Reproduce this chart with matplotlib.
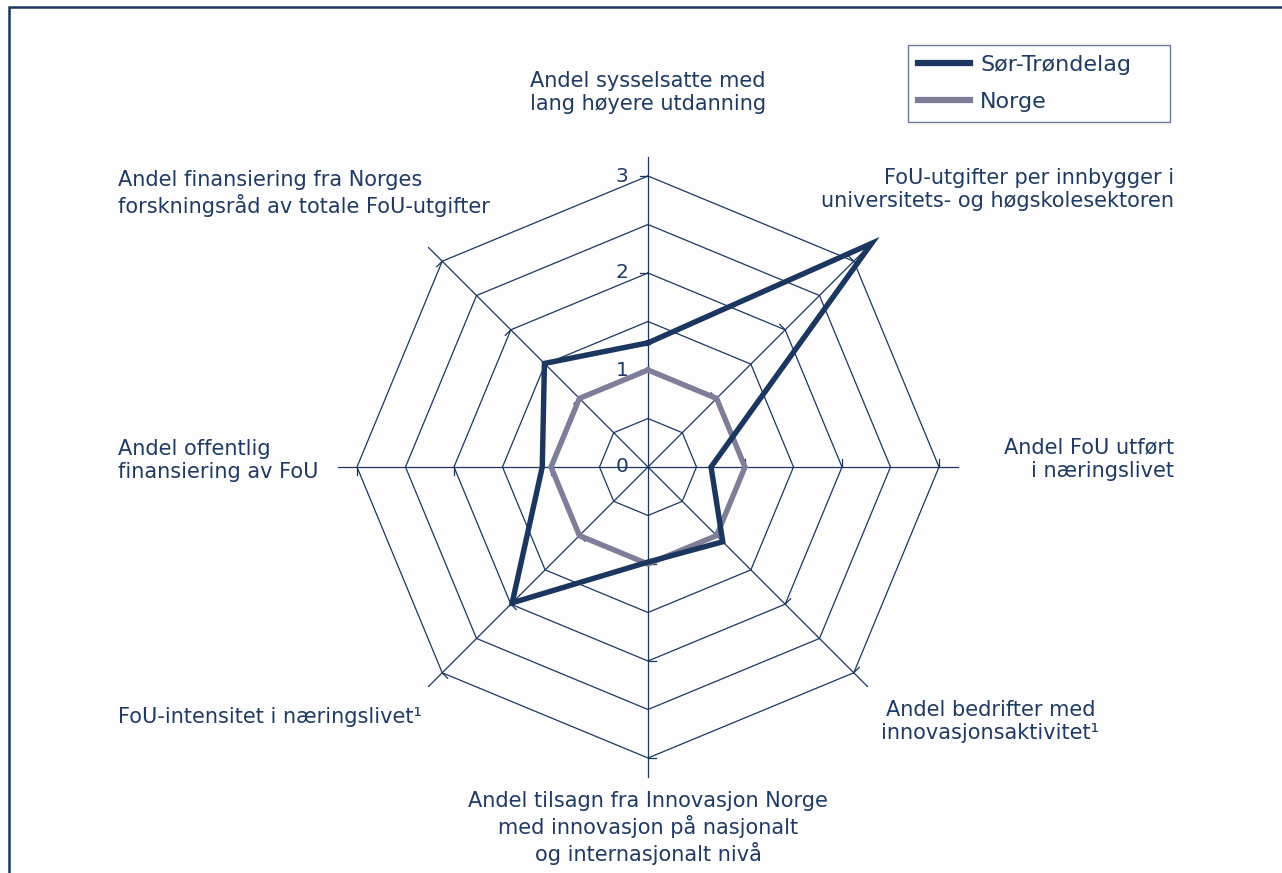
import numpy as np
import matplotlib
matplotlib.use("Agg")
import matplotlib.pyplot as plt
from matplotlib.patches import Rectangle
from matplotlib.lines import Line2D

# axes, clockwise from the top
categories = [
    "Andel sysselsatte med\nlang høyere utdanning",
    "FoU-utgifter per innbygger i\nuniversitets- og høgskolesektoren",
    "Andel FoU utført\ni næringslivet",
    "Andel bedrifter med\ninnovasjonsaktivitet¹",
    "Andel tilsagn fra Innovasjon Norge\nmed innovasjon på nasjonalt\nog internasjonalt nivå",
    "FoU-intensitet i næringslivet¹",
    "Andel offentlig\nfinansiering av FoU",
    "Andel finansiering fra Norges\nforskningsråd av totale FoU-utgifter",
]
sor_trondelag = [1.28, 3.26, 0.65, 1.09, 0.98, 1.98, 1.09, 1.51]
norge = [1.0, 1.0, 1.0, 1.0, 1.0, 1.0, 1.0, 1.0]
series_names = ["Sør-Trøndelag", "Norge"]
ring_levels = [0.5, 1.0, 1.5, 2.0, 2.5, 3.0]
tick_levels = [0, 1, 2, 3]

NAVY = "#1b365f"
GREY = "#7f7e99"
TXT = "#1f3b63"

plt.rcParams["font.family"] = ["DejaVu Sans"]

n = len(categories)
ang = np.deg2rad(90 - 360.0 / n * np.arange(n))

fig = plt.figure(figsize=(12.82, 8.73), dpi=100)
fig.patch.set_facecolor("white")
ax = fig.add_axes([0, 0, 1, 1])
ax.set_xlim(-648 / 97, (1282 - 648) / 97)
ax.set_ylim(-406 / 97, 467 / 97)
ax.set_aspect("equal")
ax.axis("off")

# frame around the figure (right and bottom run off the picture)
fig.add_artist(Rectangle((9 / 1282, -0.1), 1.2, 1 - 7 / 873 + 0.1,
                         transform=fig.transFigure, fill=True,
                         facecolor="#fdfdfd", edgecolor="#1b365f", lw=1.8, zorder=0))

# octagon grid
for r in ring_levels:
    xs = np.append(r * np.cos(ang), r * np.cos(ang[0]))
    ys = np.append(r * np.sin(ang), r * np.sin(ang[0]))
    ax.plot(xs, ys, color=NAVY, lw=0.9, zorder=1)

# spokes + small ticks
for a in ang:
    ax.plot([0, 3.2 * np.cos(a)], [0, 3.2 * np.sin(a)], color=NAVY, lw=0.9, zorder=1)
    for t in tick_levels[1:]:
        px, py = t * np.cos(a), t * np.sin(a)
        ax.plot([px, px + 0.08 * np.cos(a + np.pi / 2)],
                [py, py + 0.08 * np.sin(a + np.pi / 2)], color=NAVY, lw=0.9, zorder=1)

for t in tick_levels:
    ax.text(-0.2, t, str(t), ha="right", va="center", fontsize=14.5, color=TXT)

# data lines
for vals, col in [(norge, GREY), (sor_trondelag, NAVY)]:
    v = np.array(vals + vals[:1])
    a = np.append(ang, ang[0])
    ax.plot(v * np.cos(a), v * np.sin(a), color=col, lw=3.9, zorder=3,
            solid_joinstyle="miter")

# category labels
label_pos = [
    (0.0, 3.86, "center"),
    (5.42, 2.86, "right"),
    (5.42, 0.08, "right"),
    (3.53, -2.62, "center"),
    (0.0, -3.72, "center"),
    (-5.46, -2.58, "left"),
    (-5.46, 0.07, "left"),
    (-5.46, 2.82, "left"),
]
for (x, y, ha), lab in zip(label_pos, categories):
    ax.text(x, y, lab, ha=ha, va="center", multialignment=ha, fontsize=15,
            color=TXT, linespacing=1.2)

handles = [Line2D([], [], color=NAVY, lw=4.5), Line2D([], [], color=GREY, lw=4.5)]
leg = fig.legend(handles, series_names, loc="upper left", mode="expand",
                 bbox_to_anchor=(908 / 1282, 1 - 120 / 873, 262 / 1282, 75 / 873),
                 borderaxespad=0, fontsize=16,
                 frameon=True, fancybox=False, handlelength=2.35, handletextpad=0.45,
                 labelspacing=0.75, borderpad=0.45, labelcolor=TXT)
leg.get_frame().set_edgecolor("#4a5a7a")
leg.get_frame().set_linewidth(1.0)

fig.savefig("out.png", dpi=100)
